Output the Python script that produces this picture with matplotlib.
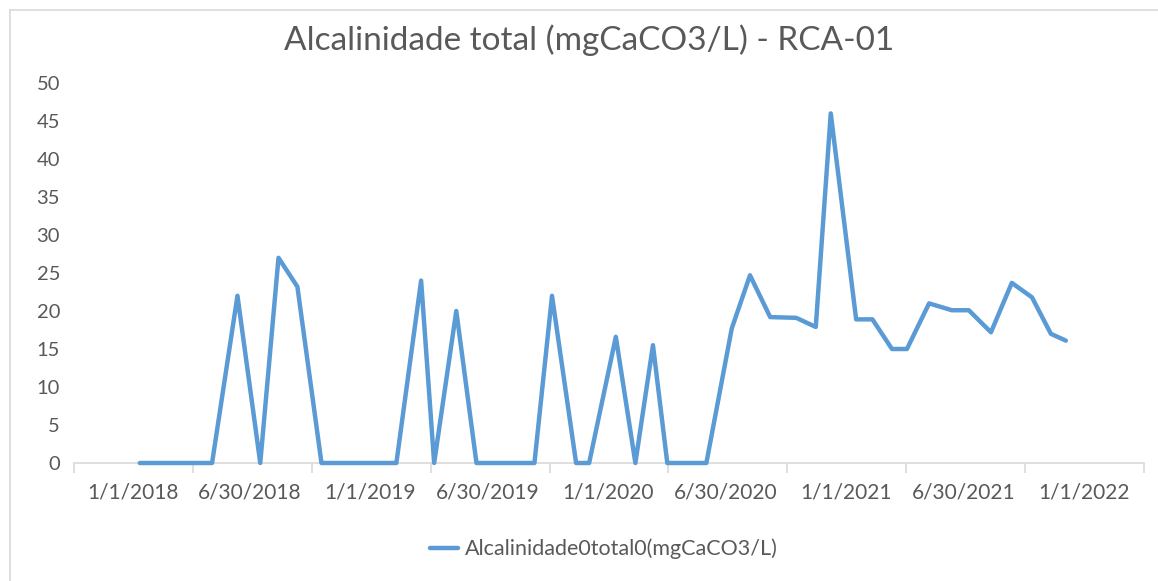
import matplotlib
matplotlib.use("Agg")
import matplotlib.pyplot as plt
import matplotlib.dates as mdates
from matplotlib.lines import Line2D
import numpy as np
import pandas as pd

# ---- data ----
sample_dates = [
    "2018-01-12", "2018-02-07", "2018-03-07", "2018-04-03", "2018-05-03",
    "2018-06-11", "2018-07-16", "2018-08-13", "2018-09-11", "2018-10-18",
    "2018-11-14", "2018-12-12", "2019-01-15", "2019-02-10", "2019-03-20",
    "2019-04-09", "2019-05-13", "2019-06-13", "2019-07-13", "2019-08-13",
    "2019-09-10", "2019-10-07", "2019-11-13", "2019-12-03", "2020-01-13",
    "2020-02-12", "2020-03-10", "2020-04-01", "2020-04-30", "2020-05-31",
    "2020-07-09", "2020-08-06", "2020-09-06", "2020-10-16", "2020-11-15",
    "2020-12-08", "2021-01-16", "2021-02-10", "2021-03-12", "2021-04-04",
    "2021-05-08", "2021-06-12", "2021-07-08", "2021-08-11", "2021-09-12",
    "2021-10-13", "2021-11-11", "2021-12-04",
]
alcalinidade = [
    0, 0, 0, 0, 0,
    22, 0, 27, 23.2, 0,
    0, 0, 0, 0, 24,
    0, 20, 0, 0, 0,
    0, 22, 0, 0, 16.6,
    0, 15.5, 0, 0, 0,
    17.7, 24.7, 19.2, 19.1, 17.9,
    46, 18.9, 18.9, 15, 15,
    21, 20.1, 20.1, 17.2, 23.7,
    21.8, 17, 16.1,
]
tick_dates = ["2018-01-01", "2018-06-30", "2019-01-01", "2019-06-30", "2020-01-01",
              "2020-06-30", "2021-01-01", "2021-06-30", "2022-01-01"]
tick_labels = ["1/1/2018", "6/30/2018", "1/1/2019", "6/30/2019", "1/1/2020",
               "6/30/2020", "1/1/2021", "6/30/2021", "1/1/2022"]
y_ticks = [0, 5, 10, 15, 20, 25, 30, 35, 40, 45, 50]
axis_start, axis_end = "2017-10-03", "2022-04-03"
title = "Alcalinidade total (mgCaCO3/L) - RCA-01"
series_name = "Alcalinidade0total0(mgCaCO3/L)"

# ---- styling ----
W, H = 1158, 581
TEXT = "#595959"
GRID = "#D9D9D9"
BLUE = "#5B9BD5"
FONT = "Lato"

fig = plt.figure(figsize=(W / 100, H / 100), dpi=100)
fig.patch.set_facecolor("white")

ax = fig.add_axes([74 / W, 1 - 463 / H, (1144 - 74) / W, (463 - 83) / H])

x = mdates.date2num(pd.to_datetime(sample_dates).to_pydatetime())
ax.plot(x, alcalinidade, color=BLUE, lw=3.2, solid_joinstyle="round",
        solid_capstyle="round", label=series_name, clip_on=False, zorder=3)

x0 = mdates.date2num(pd.Timestamp(axis_start).to_pydatetime())
x1 = mdates.date2num(pd.Timestamp(axis_end).to_pydatetime())
ax.set_xlim(x0, x1)
ax.set_ylim(0, 50)

ax.set_yticks(y_ticks)
ax.set_yticklabels([str(v) for v in y_ticks], fontfamily=FONT, fontsize=14.5, color=TEXT)

ax.set_xticks(mdates.date2num(pd.to_datetime(tick_dates).to_pydatetime()))
ax.set_xticklabels(tick_labels, fontfamily=FONT, fontsize=15, color=TEXT)
ax.set_xticks(np.linspace(x0, x1, len(tick_labels) + 1), minor=True)

ax.tick_params(axis="x", which="major", length=0, pad=14)
ax.tick_params(axis="x", which="minor", length=7, width=1.2, color=GRID)
ax.tick_params(axis="y", length=0, pad=10)

for s in ("top", "right", "left"):
    ax.spines[s].set_visible(False)
ax.spines["bottom"].set_color(GRID)
ax.spines["bottom"].set_linewidth(1.2)
ax.spines["bottom"].set_zorder(1)
ax.set_facecolor("none")

fig.text(589 / W, 1 - 40 / H, title, ha="center", va="center",
         fontfamily=FONT, fontsize=24, color=TEXT)

fig.legend(loc="center", bbox_to_anchor=(604 / W, 1 - 549 / H), frameon=False,
           prop={"family": FONT, "size": 15.5}, labelcolor=TEXT,
           handlelength=1.3, handletextpad=0.3)

# chart-area border (only the top and left edges are inside the screenshot)
fig.add_artist(Line2D([10 / W, 10 / W], [0, 1 - 10 / H], transform=fig.transFigure,
                      color=GRID, lw=1.2))
fig.add_artist(Line2D([10 / W, 1], [1 - 10 / H, 1 - 10 / H], transform=fig.transFigure,
                      color=GRID, lw=1.2))

fig.savefig("out.png", dpi=100, facecolor="white")
